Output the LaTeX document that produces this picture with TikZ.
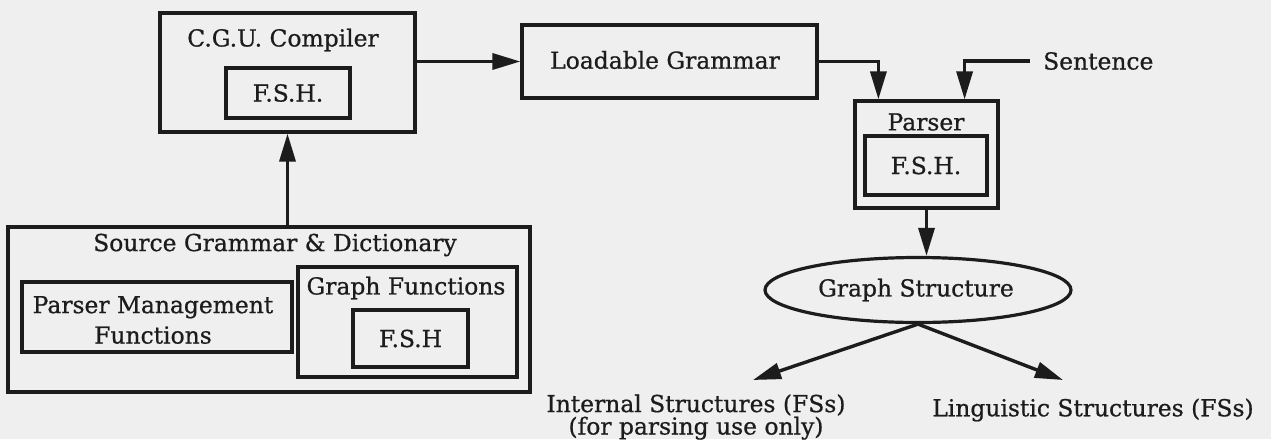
\documentclass[tikz,border=0pt]{standalone}
\usepackage{fontspec}
\setmainfont[FakeBold=0.7]{DejaVu Serif}
\usetikzlibrary{arrows.meta,shapes.geometric,calc}
\definecolor{ink}{HTML}{1C1C1C}
\definecolor{paper}{HTML}{EFEFEF}
\begin{document}
\begin{tikzpicture}[x=1pt,y=-1pt,
  box/.style={draw=ink,line width=3.2pt,rectangle,inner sep=0pt,fill=none},
  lbl/.style={font=\fontsize{23.4}{20}\selectfont,text=ink,inner sep=0pt},
  arr/.style={draw=ink,line width=3.4pt,-{Triangle[length=28pt,width=16pt]}},
  link/.style={draw=ink,line width=3.2pt}]

% page
\fill[paper] (0,0) rectangle (1271,439);
\useasboundingbox (0,0) rectangle (1271,439);

% compiler
\node[box,minimum width=255pt,minimum height=119pt] (cgu) at (287.5,72.5) {};
\node[lbl] (cgut) at (283,40) {C.G.U. Compiler};
\node[box,minimum width=124pt,minimum height=50pt] (fsha) at (288,93) {};
\node[lbl] (fshat) at (288,93) {F.S.H.};

% loadable grammar
\node[box,minimum width=295pt,minimum height=73pt] (lg) at (669.5,61.5) {};
\node[lbl] (lgt) at (665,60) {Loadable Grammar};

% parser
\node[box,minimum width=143pt,minimum height=107pt] (parser) at (926.5,154.5) {};
\node[lbl] (parsert) at (926,122) {Parser};
\node[box,minimum width=122pt,minimum height=59pt] (fshb) at (926,165.5) {};
\node[lbl] (fshbt) at (926,165.5) {F.S.H.};

% sentence input
\node[lbl,anchor=west] (sent) at (1043,61) {Sentence};
\coordinate (sentin) at (1030,61);

% graph structure
\node[draw=ink,line width=3.2pt,ellipse,minimum width=306pt,minimum height=65pt,inner sep=0pt] (gs) at (918,290) {};
\node[lbl] (gst) at (916,290) {Graph Structure};

% outputs
\node[lbl,align=center] (internal) at (696,417) {Internal Structures (FSs)\\(for parsing use only)};
\node[lbl] (ling) at (1093,410) {Linguistic Structures (FSs)};
\coordinate (tipa) at (753,380);
\coordinate (tipb) at (1063,380);

% source grammar & dictionary
\node[box,minimum width=522pt,minimum height=165pt] (sgd) at (269,309.5) {};
\node[lbl] (sgdt) at (275,245) {Source Grammar \& Dictionary};
\node[box,minimum width=270pt,minimum height=70pt] (pmf) at (157,317) {};
\node[lbl,align=center] (pmft) at (153,320) {Parser Management\\[7pt]Functions};
\node[box,minimum width=219pt,minimum height=110pt] (gf) at (407.5,322) {};
\node[lbl] (gft) at (406,288) {Graph Functions};
\node[box,minimum width=115pt,minimum height=57pt] (fshc) at (410.5,338.5) {};
\node[lbl] (fshct) at (410.5,338.5) {F.S.H};

% connectors
\draw[arr] (sgd.north -| cgu.south) -- (cgu.south);
\draw[arr] (cgu.east |- lg.west) -- (lg.west);
\draw[arr] (lg.east) -| ([xshift=25pt]parser.north west);
\draw[arr] (sentin) -| ([xshift=-35pt]parser.north east);
\draw[arr] (parser.south) -- (parser.south |- gs.north);
\draw[arr] (gs.south) -- (tipa);
\draw[arr] (gs.south) -- (tipb);
\end{tikzpicture}
\end{document}
